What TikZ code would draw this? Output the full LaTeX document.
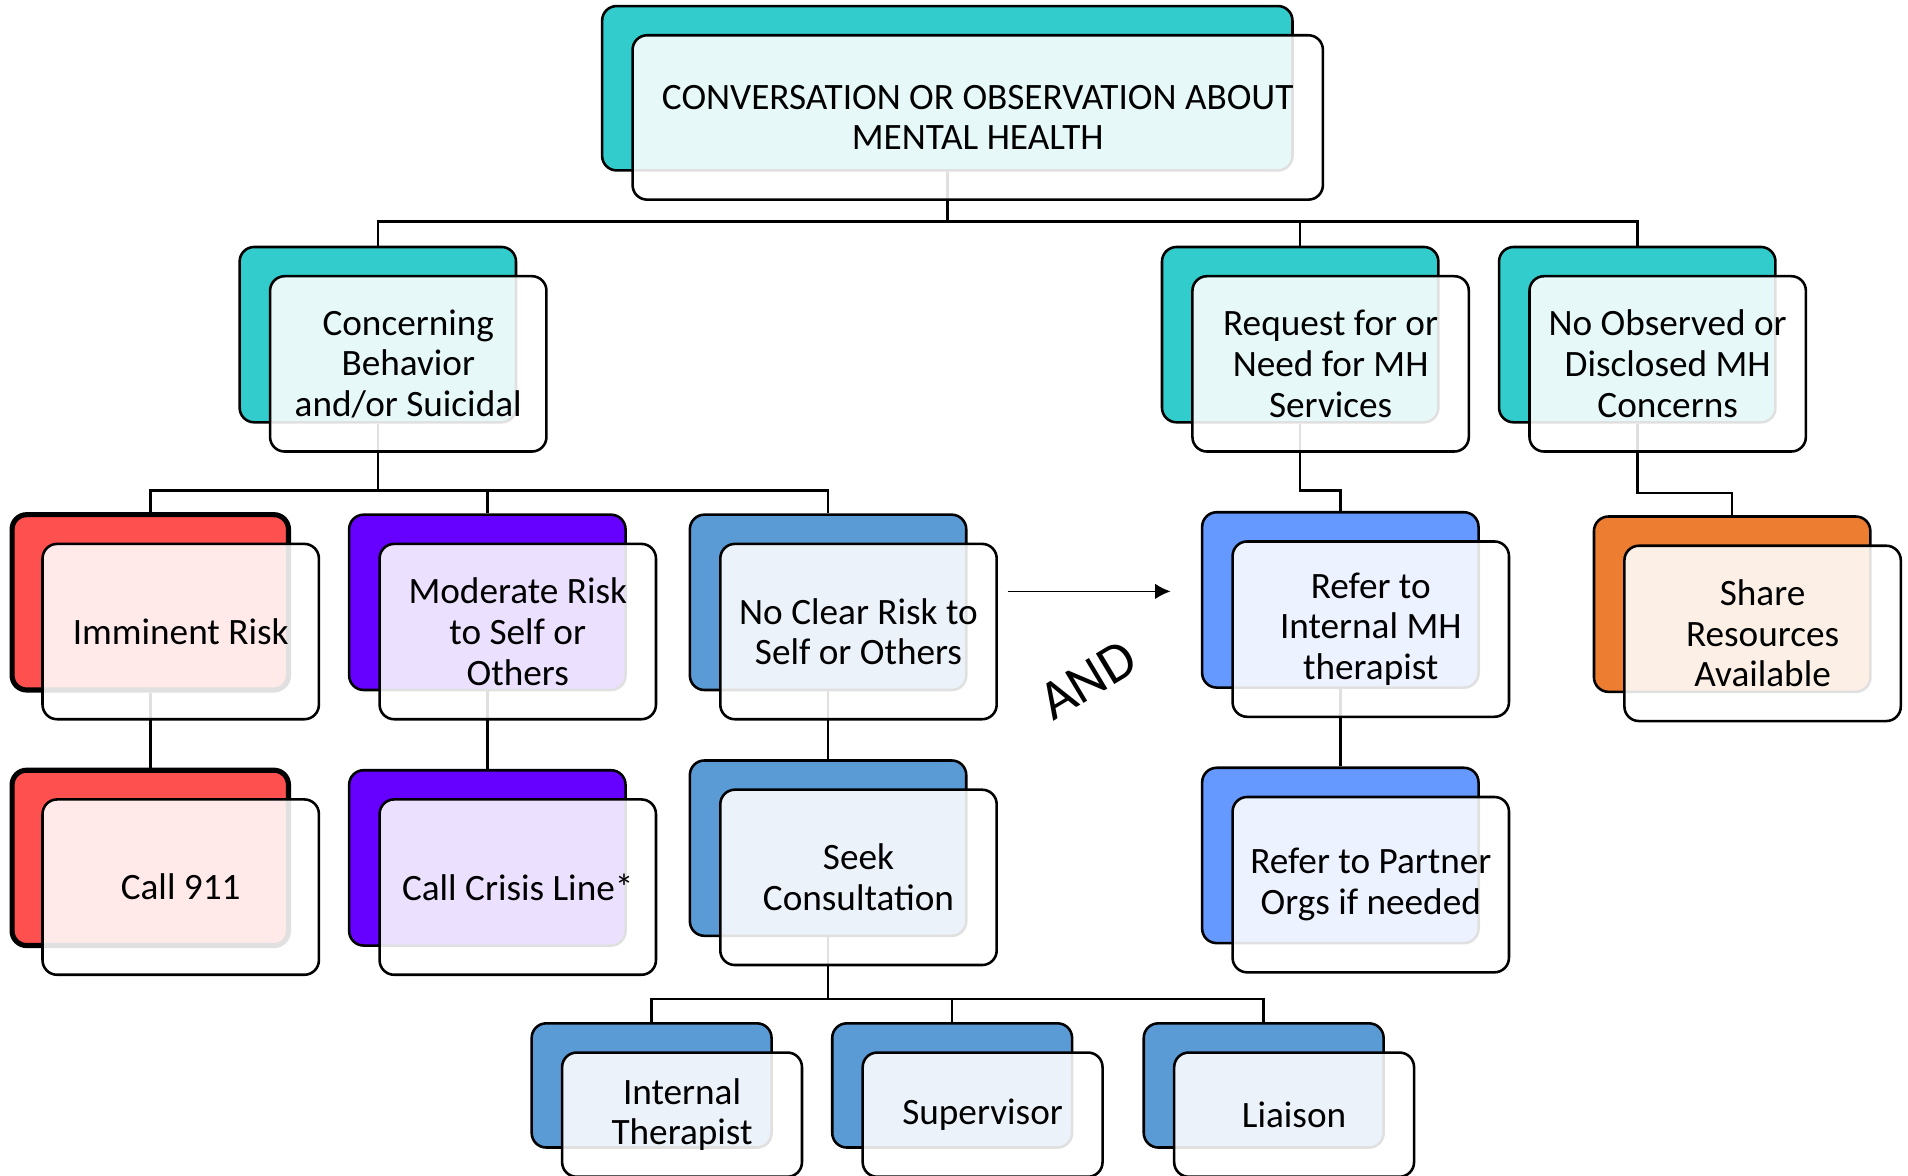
\documentclass[tikz,border=0pt]{standalone}
\usepackage{fontspec}
\setmainfont{Carlito}
\usetikzlibrary{arrows.meta,backgrounds}
\definecolor{mhteal}{HTML}{33CCCC}
\definecolor{mhred}{HTML}{FF5050}
\definecolor{mhpurple}{HTML}{6600FF}
\definecolor{mhsteel}{HTML}{5B9BD5}
\definecolor{mhblue}{HTML}{6699FF}
\definecolor{mhorange}{HTML}{ED7D31}
\tikzset{
  backbox/.style={draw=black, line width=0.6pt, rounded corners=3.4pt, inner sep=0pt,
    minimum width=2.27cm, minimum height=1.44cm},
  frontbox/.style={backbox, fill=white, fill opacity=0.88, text opacity=1, align=center,
    font=\fontsize{8.7}{9.5}\selectfont},
  smallbox/.style={minimum width=1.97cm, minimum height=1.02cm},
  link/.style={line width=0.6pt}
}
\begin{document}
\begin{tikzpicture}[x=0.01cm, y=-0.01cm]
    \useasboundingbox (0,0) rectangle (1568,966);

    \node[backbox, fill=mhteal, minimum width=5.67cm, minimum height=1.35cm] (convb) at (778.5,72.5) {};
    \node[frontbox, minimum width=5.67cm, minimum height=1.35cm] (conv) at ([shift={(0.25cm,-0.24cm)}]convb.center) {CONVERSATION OR OBSERVATION ABOUT\\MENTAL HEALTH};

    \node[backbox, fill=mhteal] (concernb) at (310.5,275) {};
    \node[frontbox] (concern) at ([shift={(0.25cm,-0.24cm)}]concernb.center) {Concerning\\Behavior\\and/or Suicidal};
    \node[backbox, fill=mhteal] (requestb) at (1068.5,275) {};
    \node[frontbox] (request) at ([shift={(0.25cm,-0.24cm)}]requestb.center) {Request for or\\Need for MH\\Services};
    \node[backbox, fill=mhteal] (noobsb) at (1345.5,275) {};
    \node[frontbox] (noobs) at ([shift={(0.25cm,-0.24cm)}]noobsb.center) {No Observed or\\Disclosed MH\\Concerns};

    \node[backbox, fill=mhred, line width=1.2pt] (imminentb) at (123.5,495) {};
    \node[frontbox] (imminent) at ([shift={(0.25cm,-0.24cm)}]imminentb.center) {Imminent Risk};
    \node[backbox, fill=mhpurple] (moderateb) at (400.5,495) {};
    \node[frontbox] (moderate) at ([shift={(0.25cm,-0.24cm)}]moderateb.center) {Moderate Risk\\to Self or\\Others};
    \node[backbox, fill=mhsteel] (noclearb) at (680.5,495) {};
    \node[frontbox] (noclear) at ([shift={(0.25cm,-0.24cm)}]noclearb.center) {No Clear Risk to\\Self or Others};
    \node[backbox, fill=mhblue] (refintb) at (1101.5,493) {};
    \node[frontbox] (refint) at ([shift={(0.25cm,-0.24cm)}]refintb.center) {Refer to\\Internal MH\\therapist};
    \node[backbox, fill=mhorange] (shareb) at (1423.5,496.5) {};
    \node[frontbox] (share) at ([shift={(0.25cm,-0.24cm)}]shareb.center) {Share\\Resources\\Available};

    \node[backbox, fill=mhred, line width=1.2pt] (callb) at (123.5,705) {};
    \node[frontbox] (call) at ([shift={(0.25cm,-0.24cm)}]callb.center) {Call 911};
    \node[backbox, fill=mhpurple] (crisisb) at (400.5,705) {};
    \node[frontbox] (crisis) at ([shift={(0.25cm,-0.24cm)}]crisisb.center) {Call Crisis Line*};
    \node[backbox, fill=mhsteel] (seekb) at (680.5,697) {};
    \node[frontbox] (seek) at ([shift={(0.25cm,-0.24cm)}]seekb.center) {Seek\\Consultation};
    \node[backbox, fill=mhblue] (partnerb) at (1101.5,703) {};
    \node[frontbox] (partner) at ([shift={(0.25cm,-0.24cm)}]partnerb.center) {Refer to Partner\\Orgs if needed};

    \node[backbox, smallbox, fill=mhsteel] (therapistb) at (535.5,892) {};
    \node[frontbox, smallbox] (therapist) at ([shift={(0.25cm,-0.24cm)}]therapistb.center) {Internal\\Therapist};
    \node[backbox, smallbox, fill=mhsteel] (supervisorb) at (782.5,892) {};
    \node[frontbox, smallbox] (supervisor) at ([shift={(0.25cm,-0.24cm)}]supervisorb.center) {Supervisor};
    \node[backbox, smallbox, fill=mhsteel] (liaisonb) at (1038.5,892) {};
    \node[frontbox, smallbox] (liaison) at ([shift={(0.25cm,-0.24cm)}]liaisonb.center) {Liaison};

    \coordinate (andstart) at (828,486);
    \coordinate (andend) at (962,486);
    \draw[line width=0.4pt, -{Latex[length=3.6pt, width=3.6pt]}] (andstart) -- (andend);
    \node[rotate=31, font=\fontsize{13}{15}\selectfont] (and) at (894,559) {AND};

    \begin{scope}[on background layer]
        \coordinate (bustop) at (778.5,182);
        \coordinate (busconcern) at (310.5,403);
        \coordinate (busseek) at (680.5,821);
        \draw[link] (convb.south) -- (bustop);
        \draw[link] (bustop) -| (concernb.north);
        \draw[link] (bustop) -| (requestb.north);
        \draw[link] (bustop) -| (noobsb.north);
        \draw[link] (concernb.south) -- (busconcern);
        \draw[link] (busconcern) -| (imminentb.north);
        \draw[link] (busconcern) -| (moderateb.north);
        \draw[link] (busconcern) -| (noclearb.north);
        \draw[link] (requestb.south) -- ++(0,-0.55cm) -| (refintb.north);
        \draw[link] (noobsb.south) -- ++(0,-0.57cm) -| (shareb.north);
        \draw[link] (imminentb.south) -- (callb.north);
        \draw[link] (moderateb.south) -- (crisisb.north);
        \draw[link] (noclearb.south) -- (seekb.north);
        \draw[link] (refintb.south) -- (partnerb.north);
        \draw[link] (seekb.south) -- (busseek);
        \draw[link] (busseek) -| (therapistb.north);
        \draw[link] (busseek) -| (supervisorb.north);
        \draw[link] (busseek) -| (liaisonb.north);
    \end{scope}
\end{tikzpicture}
\end{document}
